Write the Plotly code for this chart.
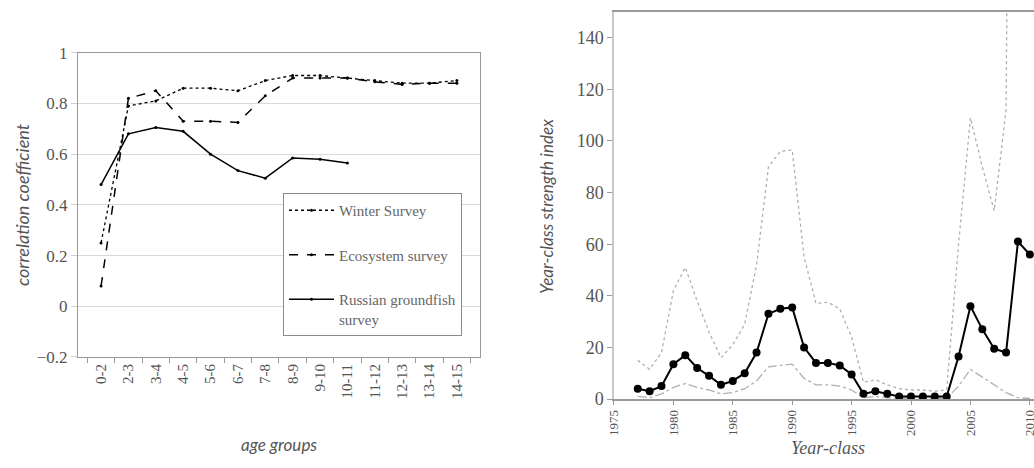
import plotly.graph_objects as go

# left panel: correlation by age group
age_groups = ["0-2", "2-3", "3-4", "4-5", "5-6", "6-7", "7-8", "8-9",
              "9-10", "10-11", "11-12", "12-13", "13-14", "14-15"]
winter_survey = [0.25, 0.79, 0.81, 0.86, 0.86, 0.85, 0.89, 0.91, 0.91, 0.90, 0.89, 0.88, 0.88, 0.89]
ecosystem_survey = [0.08, 0.82, 0.85, 0.73, 0.73, 0.725, 0.83, 0.90, 0.90, 0.90, 0.885, 0.875, 0.88, 0.88]
russian_survey = [0.48, 0.68, 0.705, 0.69, 0.60, 0.535, 0.505, 0.585, 0.58, 0.565,
                  None, None, None, None]

# right panel: year-class strength index
years = list(range(1977, 2011))
index_mid = [4, 3, 5, 13.5, 17, 12, 9, 5.5, 7, 10,
             18, 33, 35, 35.5, 20, 14, 14, 13, 9.5, 2,
             3, 2, 1, 1, 1, 1, 1, 16.5, 36, 27,
             19.5, 18, 61, 56]
index_upper = [15, 11.5, 18, 42, 51, 38, 26, 16, 21, 29,
               52, 90, 96, 96.5, 55, 37, 37.5, 35, 24, 6.5,
               7.5, 5.5, 4, 3.5, 3.5, 3, 3.5, 60, 109, 90,
               73, 112, 700, 600]
index_lower = [1, 0.5, 2, 4.5, 6, 4.5, 3.5, 2, 2.5, 4,
               7, 12.5, 13, 13.5, 8, 5.5, 5.5, 5, 3.5, 0.5,
               1, 0.5, 0.3, 0.3, 0.3, 0.3, 0.3, 5, 11.5, 8.5,
               5.5, 2.5, 0.5, 0.2]

serif = "Liberation Serif"
grey_txt = "#555555"
axis_grey = "#9a9a9a"

fig = go.Figure()

fig.add_trace(go.Scatter(x=age_groups, y=winter_survey, name="Winter Survey",
                         mode="lines+markers", legendgroup="a",
                         line=dict(color="black", width=1.3, dash="dot"),
                         marker=dict(size=3, color="black"),
                         xaxis="x", yaxis="y"))
fig.add_trace(go.Scatter(x=age_groups, y=ecosystem_survey, name="Ecosystem survey",
                         mode="lines+markers", legendgroup="b",
                         line=dict(color="black", width=1.5, dash="dash"),
                         marker=dict(size=3, color="black"),
                         xaxis="x", yaxis="y"))
fig.add_trace(go.Scatter(x=age_groups, y=russian_survey, name="Russian groundfish<br>survey",
                         mode="lines+markers", legendgroup="c",
                         line=dict(color="black", width=1.5),
                         marker=dict(size=3, color="black"),
                         xaxis="x", yaxis="y"))

fig.add_trace(go.Scatter(x=years, y=index_upper, mode="lines", showlegend=False,
                         line=dict(color="#b0b0b0", width=1.3, dash="dot"),
                         xaxis="x2", yaxis="y2"))
fig.add_trace(go.Scatter(x=years, y=index_lower, mode="lines", showlegend=False,
                         line=dict(color="#b0b0b0", width=1.3, dash="dashdot"),
                         xaxis="x2", yaxis="y2"))
fig.add_trace(go.Scatter(x=years, y=index_mid, mode="lines+markers", showlegend=False,
                         line=dict(color="black", width=2),
                         marker=dict(size=8, color="black"),
                         xaxis="x2", yaxis="y2"))

fig.update_layout(
    width=1034, height=468,
    margin=dict(l=0, r=0, t=0, b=0),
    paper_bgcolor="white", plot_bgcolor="white",
    showlegend=True,
    legend=dict(x=283 / 1034, y=(468 - 193) / 468, xanchor="left", yanchor="top",
                bordercolor="#8a8a8a", borderwidth=1, bgcolor="white",
                font=dict(family=serif, size=15, color="#666666"),
                tracegroupgap=22, valign="top", itemwidth=45),
    xaxis=dict(domain=[0.0754, 0.4642], type="category", automargin=False,
               tickson="boundaries", ticks="outside", ticklen=5, tickcolor=axis_grey,
               tickangle=-90, showline=True, linecolor=axis_grey, mirror=True,
               showgrid=False, tickfont=dict(family=serif, size=15, color=grey_txt),
               anchor="y"),
    yaxis=dict(domain=[0.2372, 0.8874], range=[-0.2, 1], dtick=0.2, automargin=False,
               ticks="outside", ticklen=6, tickcolor="#d0d0d0",
               showline=True, linecolor=axis_grey, mirror=True,
               showgrid=True, gridcolor="#d9d9d9", zeroline=False,
               tickfont=dict(family=serif, size=17, color=grey_txt),
               anchor="x"),
    xaxis2=dict(domain=[0.5938, 1.0], range=[1975, 2010.35], tick0=1975, dtick=5,
                automargin=False, ticklabeloverflow="allow",
                ticks="outside", ticklen=4, tickcolor=axis_grey, tickangle=-90,
                showline=True, linecolor=axis_grey, linewidth=1.5, mirror=True,
                showgrid=False, zeroline=False,
                tickfont=dict(family=serif, size=13, color=grey_txt),
                anchor="y2"),
    yaxis2=dict(domain=[0.1474, 0.9744], range=[0, 150], dtick=20, automargin=False,
                ticks="outside", ticklen=5, tickcolor=axis_grey,
                showline=True, linecolor="#c8c8c8", linewidth=1.5,
                showgrid=False, zeroline=False,
                tickfont=dict(family=serif, size=18, color=grey_txt),
                anchor="x2"),
    annotations=[
        dict(text="correlation coefficient", x=22 / 1034, y=(468 - 205) / 468,
             xref="paper", yref="paper", textangle=-90, showarrow=False,
             xanchor="center", yanchor="middle",
             font=dict(family="Lato", size=18, color=grey_txt, style="italic")),
        dict(text="age groups", x=279 / 1034, y=(468 - 444) / 468,
             xref="paper", yref="paper", showarrow=False,
             xanchor="center", yanchor="middle",
             font=dict(family="Lato", size=17, color=grey_txt, style="italic")),
        dict(text="Year-class strength index", x=546 / 1034, y=(468 - 207) / 468,
             xref="paper", yref="paper", textangle=-90, showarrow=False,
             xanchor="center", yanchor="middle",
             font=dict(family="Lato", size=17, color=grey_txt, style="italic")),
        dict(text="Year-class", x=828 / 1034, y=(468 - 448) / 468,
             xref="paper", yref="paper", showarrow=False,
             xanchor="center", yanchor="middle",
             font=dict(family=serif, size=18, color=grey_txt, style="italic")),
    ],
)

# page body has a default 8px margin; remove it so the figure fills the window
fig.write_html("out.html", config={"displayModeBar": False},
               post_script="document.body.style.margin='0';")
